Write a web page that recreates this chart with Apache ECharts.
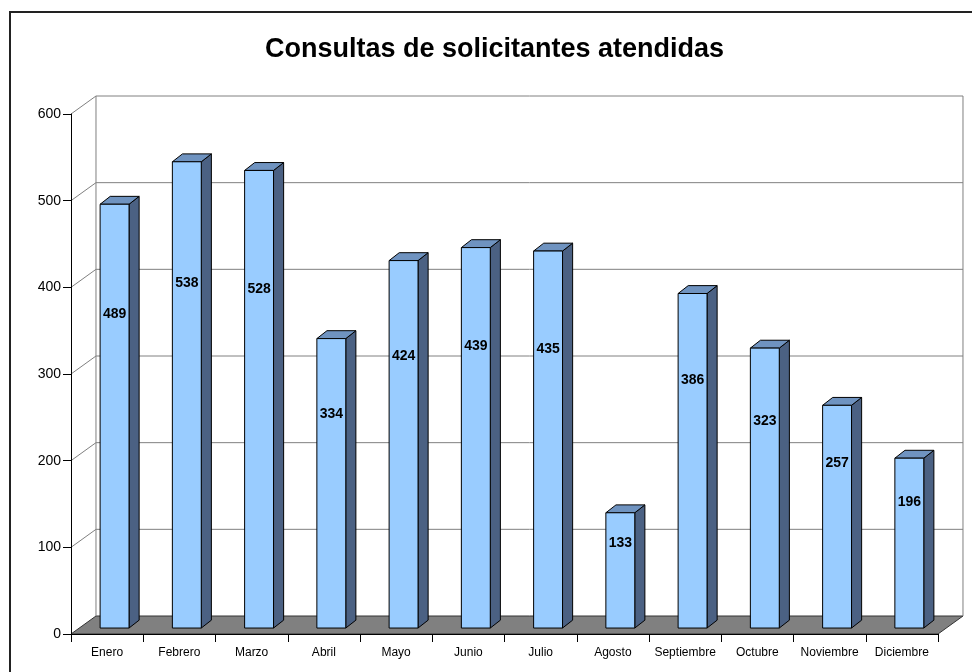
<!DOCTYPE html>
<html>
<head>
<meta charset="utf-8">
<script src="https://cdn.jsdelivr.net/npm/echarts@6/dist/echarts.min.js"></script>
<style>
  html, body { margin: 0; padding: 0; background: #fff; }
  #chart { width: 972px; height: 672px; }
</style>
</head>
<body>
<div id="chart"></div>
<script>
var meses = ['Enero', 'Febrero', 'Marzo', 'Abril', 'Mayo', 'Junio', 'Julio', 'Agosto', 'Septiembre', 'Octubre', 'Noviembre', 'Diciembre'];
var consultas = [489, 538, 528, 334, 424, 439, 435, 133, 386, 323, 257, 196];
var yTicks = [0, 100, 200, 300, 400, 500, 600];

var fuente = 'Liberation Sans, Arial, sans-serif';

// profundidad del efecto 3D, en fracciones del ancho de categoria
var WALL_DX = 0.346, WALL_K = 0.72;
var BAR_W = 0.40, BAR_SHIFT = 0.103, BAR_D = 0.14;

function renderWall(params, api) {
    var cs = params.coordSys;
    var band = api.size([1, 0])[0];
    var dx = band * WALL_DX, dy = dx * WALL_K;
    var v = api.value(1);
    var y = api.coord([0, v])[1];
    var x0 = cs.x, x1 = cs.x + cs.width;
    var grey = '#808080';
    var children = [];
    if (v === 0) {
        var yTop = api.coord([0, yTicks[yTicks.length - 1]])[1];
        children.push({
            type: 'polygon',
            shape: {points: [[x0, y], [x0 + dx, y - dy], [x1 + dx, y - dy], [x1, y]]},
            style: {fill: '#808080', stroke: '#333', lineWidth: 1}
        });
        children.push({
            type: 'line',
            shape: {x1: x0 + dx, y1: yTop - dy, x2: x0 + dx, y2: y - dy},
            style: {stroke: grey, lineWidth: 1}
        });
        children.push({
            type: 'line',
            shape: {x1: x1 + dx, y1: yTop - dy, x2: x1 + dx, y2: y - dy},
            style: {stroke: grey, lineWidth: 1}
        });
    } else {
        children.push({
            type: 'polyline',
            shape: {points: [[x0, y], [x0 + dx, y - dy], [x1 + dx, y - dy]]},
            style: {stroke: grey, lineWidth: 1, fill: null}
        });
    }
    return {type: 'group', children: children};
}

function renderBar(params, api) {
    var i = api.value(0), v = api.value(1);
    var band = api.size([1, 0])[0];
    var base = api.coord([i, 0]);
    var top = api.coord([i, v]);
    var w = band * BAR_W;
    var sx = band * BAR_SHIFT, sy = sx * 0.8;
    var d = band * BAR_D, dd = d * 0.78;
    var fx = base[0] - w / 2 + sx;
    var ty = top[1] - sy, by = base[1] - sy;
    var edge = {stroke: '#000', lineWidth: 1};
    return {
        type: 'group',
        children: [
            {
                type: 'polygon',
                shape: {points: [[fx + w, ty], [fx + w + d, ty - dd], [fx + w + d, by - dd], [fx + w, by]]},
                style: Object.assign({fill: '#4B6183'}, edge)
            },
            {
                type: 'polygon',
                shape: {points: [[fx, ty], [fx + d, ty - dd], [fx + w + d, ty - dd], [fx + w, ty]]},
                style: Object.assign({fill: '#6F93C0'}, edge)
            },
            {
                type: 'rect',
                shape: {x: fx, y: ty, width: w, height: by - ty},
                style: Object.assign({fill: '#99CCFF'}, edge)
            },
            {
                type: 'text',
                x: fx + w / 2,
                y: by - (by - ty) * 0.74,
                style: {
                    text: String(v),
                    fill: '#000',
                    font: 'bold 14px ' + fuente,
                    align: 'center',
                    verticalAlign: 'middle'
                }
            }
        ]
    };
}

var myChart = echarts.init(document.getElementById('chart'));
myChart.setOption({
    backgroundColor: '#fff',
    animation: false,
    title: {
        text: 'Consultas de solicitantes atendidas',
        left: 260,
        top: 31,
        textStyle: {fontFamily: fuente, fontSize: 27, fontWeight: 'bold', color: '#000'}
    },
    graphic: [
        {
            type: 'rect',
            shape: {x: 10, y: 12, width: 990, height: 700},
            style: {fill: null, stroke: '#222', lineWidth: 2},
            silent: true
        }
    ],
    grid: {left: 71, right: 34, top: 114, bottom: 38},
    xAxis: {
        type: 'category',
        data: meses,
        boundaryGap: true,
        axisLine: {lineStyle: {color: '#000', width: 1}},
        axisTick: {show: true, length: 8, lineStyle: {color: '#000'}},
        axisLabel: {color: '#000', fontFamily: fuente, fontSize: 12, margin: 13, interval: 0}
    },
    yAxis: {
        type: 'value',
        min: 0,
        max: 600,
        interval: 100,
        axisLine: {show: true, lineStyle: {color: '#000', width: 1}},
        axisTick: {show: true, length: 8, lineStyle: {color: '#000'}},
        axisLabel: {color: '#000', fontFamily: fuente, fontSize: 14, margin: 10},
        splitLine: {show: false}
    },
    series: [
        {
            type: 'custom',
            name: 'pared',
            z: -1,
            silent: true,
            renderItem: renderWall,
            data: yTicks.map(function (t) { return [0, t]; })
        },
        {
            type: 'custom',
            name: 'Consultas',
            z: 3,
            renderItem: renderBar,
            data: consultas.map(function (v, k) { return [k, v]; })
        }
    ]
});
</script>
</body>
</html>
